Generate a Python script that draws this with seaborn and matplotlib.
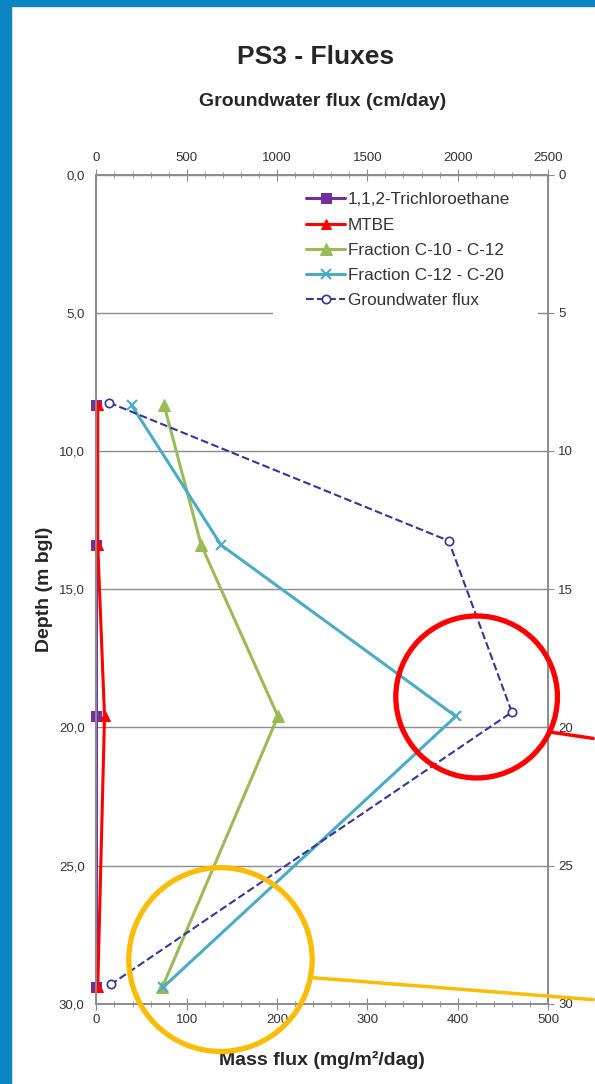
import matplotlib
matplotlib.use('Agg')
import matplotlib.pyplot as plt
import seaborn as sns
from matplotlib.patches import Ellipse, Rectangle
from matplotlib.ticker import MultipleLocator, FuncFormatter

# Data
depth = [8.35, 13.4, 19.6, 29.4]
gw_depth = [8.25, 13.25, 19.45, 29.3]
tca = [0, 0, 0, 0]
mtbe = [1.5, 1.5, 9, 1.5]
frac_c10_c12 = [75, 116, 201, 73]
frac_c12_c20 = [39, 138, 398, 74]
gw_flux = [70, 1950, 2300, 80]

sns.set_style('white')
plt.rcParams['font.family'] = ['Liberation Sans', 'DejaVu Sans']

fig = plt.figure(figsize=(5.95, 10.84), dpi=100)
ax = fig.add_axes([0.162, 0.074, 0.759, 0.765])

# Blue frame of the slide
fig.patches.append(Rectangle((0, 0), 11 / 595, 1, transform=fig.transFigure, color='#0b85c1', zorder=0))
fig.patches.append(Rectangle((0, 1 - 6 / 1084), 1, 6 / 1084, transform=fig.transFigure, color='#0b85c1', zorder=0))

grey = '#8c8c8c'
txt = '#333333'

# Mass flux series (bottom axis)
line_kw = dict(sort=False, estimator=None, ax=ax, linewidth=2.2, clip_on=False)
sns.lineplot(x=tca, y=depth, color='#7030a0', marker='s', markersize=7, markeredgecolor='#7030a0',
             label='1,1,2-Trichloroethane', **line_kw)
sns.lineplot(x=mtbe, y=depth, color='#ff0000', marker='^', markersize=7, markeredgecolor='#ff0000',
             label='MTBE', **line_kw)
sns.lineplot(x=frac_c10_c12, y=depth, color='#9bbb59', marker='^', markersize=8, markeredgecolor='#9bbb59',
             label='Fraction C-10 - C-12', **line_kw)
sns.lineplot(x=frac_c12_c20, y=depth, color='#4bacc6', marker='x', markersize=7, markeredgecolor='#4bacc6',
             markeredgewidth=1.5, label='Fraction C-12 - C-20', **line_kw)

ax.set_xlim(0, 500)
ax.set_ylim(30, 0)
ax.xaxis.set_major_locator(MultipleLocator(100))
ax.xaxis.set_minor_locator(MultipleLocator(20))
ax.yaxis.set_major_locator(MultipleLocator(5))
ax.yaxis.set_major_formatter(FuncFormatter(lambda v, p: f'{v:.1f}'.replace('.', ',')))
ax.tick_params(axis='x', which='major', direction='inout', length=8, color=grey, labelsize=9.5, labelcolor=txt)
ax.tick_params(axis='x', which='minor', direction='inout', length=5, color=grey)
ax.tick_params(axis='y', which='major', direction='out', length=5, color=grey, labelsize=9.5, labelcolor=txt)
ax.yaxis.grid(True, color=grey, linewidth=1)
ax.set_axisbelow(True)
for s in ax.spines.values():
    s.set_color(grey)
    s.set_linewidth(1.2)
ax.set_xlabel('Mass flux (mg/m²/dag)', fontsize=14, fontweight='bold', labelpad=17.5)
ax.set_ylabel('Depth (m bgl)', fontsize=14, fontweight='bold', labelpad=4)

# white box behind the legend hides the 5 m gridline there
ax.add_patch(Rectangle((0.391, 0.827), 0.587, 0.166, transform=ax.transAxes,
                       facecolor='white', edgecolor='none', zorder=1))

# Right depth labels
sec = ax.secondary_yaxis('right')
sec.yaxis.set_major_locator(MultipleLocator(5))
sec.tick_params(direction='inout', length=8, color=grey, labelsize=9.5, labelcolor=txt)
sec.spines['right'].set_color(grey)

# Groundwater flux (top axis)
ax2 = ax.twiny()
sns.lineplot(x=gw_flux, y=gw_depth, sort=False, estimator=None, ax=ax2, color='#35359a',
             linestyle='--', linewidth=1.5, marker='o', markersize=6, markerfacecolor='white',
             markeredgecolor='#35359a', markeredgewidth=1.2, label='Groundwater flux')
ax2.set_xlim(0, 2500)
ax2.set_ylim(30, 0)
ax2.xaxis.set_major_locator(MultipleLocator(500))
ax2.xaxis.set_minor_locator(MultipleLocator(100))
ax2.tick_params(axis='x', which='major', direction='inout', length=8, color=grey, labelsize=9.5, labelcolor=txt)
ax2.tick_params(axis='x', which='minor', direction='inout', length=5, color=grey)
for s in ax2.spines.values():
    s.set_color(grey)
    s.set_linewidth(1.2)
ax2.set_xlabel('Groundwater flux (cm/day)', fontsize=14, fontweight='bold', labelpad=33)

# Combined legend
h1, l1 = ax.get_legend_handles_labels()
h2, l2 = ax2.get_legend_handles_labels()
ax.get_legend().remove()
ax2.get_legend().remove()
leg = ax2.legend(h1 + h2, l1 + l2, loc='upper left', bbox_to_anchor=(0.43, 0.997),
                 fontsize=12.3, frameon=False, handlelength=2.3, handletextpad=0.15,
                 labelspacing=0.6, borderpad=0.4)
for t in leg.get_texts():
    t.set_color(txt)

fig.text(0.53, 0.947, 'PS3 - Fluxes', ha='center', va='center', fontsize=19, fontweight='bold')

# Highlight circles and connector lines
ax2.add_patch(Ellipse((421 * 5, 18.9), 179 * 5, 5.86, fill=False, edgecolor='#ff0000',
                      linewidth=3.8, clip_on=False, zorder=10))
ax2.plot([500.5 * 5, 550 * 5], [20.16, 20.4], color='#ff0000', linewidth=2.5, clip_on=False, zorder=10)
ax2.add_patch(Ellipse((137.4 * 5, 28.4), 203 * 5, 6.65, fill=False, edgecolor='#fbbc05',
                      linewidth=3.8, clip_on=False, zorder=10))
ax2.plot([237 * 5, 550 * 5], [29.05, 29.85], color='#fbbc05', linewidth=2.5, clip_on=False, zorder=10)

fig.savefig('out.png', dpi=100)
